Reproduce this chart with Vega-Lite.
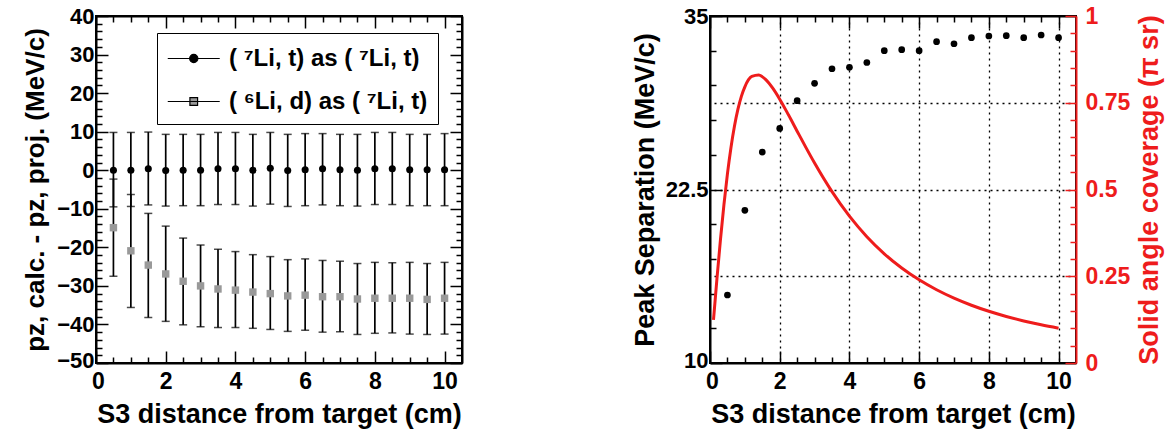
{
  "$schema": "https://vega.github.io/schema/vega-lite/v6.json",
  "padding": {"left": 21, "top": 4, "right": 5, "bottom": 5},
  "background": "white",
  "spacing": 166,
  "config": {
    "font": "Liberation Sans",
    "view": {"stroke": "black", "strokeWidth": 2},
    "axis": {
      "labelFont": "Liberation Sans", "labelFontWeight": "bold", "labelFontSize": 23, "labelColor": "black",
      "titleFont": "Liberation Sans", "titleFontWeight": "bold", "titleFontSize": 27, "titleColor": "black",
      "tickColor": "black", "tickWidth": 1.5, "domainColor": "black", "domainWidth": 2,
      "grid": false, "labelFlush": false, "labelOverlap": false, "labelBound": false
    }
  },
  "datasets": {
    "left": [
      {"series": "( ⁷Li, t) as ( ⁷Li, t)", "d": 0.5, "v": 0.0, "lo": -9.5, "hi": 9.8},
      {"series": "( ⁷Li, t) as ( ⁷Li, t)", "d": 1.0, "v": 0.0, "lo": -9.4, "hi": 9.8},
      {"series": "( ⁷Li, t) as ( ⁷Li, t)", "d": 1.5, "v": 0.4, "lo": -9.0, "hi": 9.9},
      {"series": "( ⁷Li, t) as ( ⁷Li, t)", "d": 2.0, "v": -0.1, "lo": -9.3, "hi": 9.3},
      {"series": "( ⁷Li, t) as ( ⁷Li, t)", "d": 2.5, "v": 0.0, "lo": -9.2, "hi": 9.3},
      {"series": "( ⁷Li, t) as ( ⁷Li, t)", "d": 3.0, "v": 0.0, "lo": -9.2, "hi": 9.3},
      {"series": "( ⁷Li, t) as ( ⁷Li, t)", "d": 3.5, "v": 0.4, "lo": -8.9, "hi": 9.8},
      {"series": "( ⁷Li, t) as ( ⁷Li, t)", "d": 4.0, "v": 0.4, "lo": -8.9, "hi": 9.8},
      {"series": "( ⁷Li, t) as ( ⁷Li, t)", "d": 4.5, "v": 0.0, "lo": -9.3, "hi": 9.3},
      {"series": "( ⁷Li, t) as ( ⁷Li, t)", "d": 5.0, "v": 0.5, "lo": -8.8, "hi": 9.8},
      {"series": "( ⁷Li, t) as ( ⁷Li, t)", "d": 5.5, "v": -0.1, "lo": -9.4, "hi": 9.3},
      {"series": "( ⁷Li, t) as ( ⁷Li, t)", "d": 6.0, "v": 0.1, "lo": -9.2, "hi": 9.5},
      {"series": "( ⁷Li, t) as ( ⁷Li, t)", "d": 6.5, "v": 0.4, "lo": -9.0, "hi": 9.5},
      {"series": "( ⁷Li, t) as ( ⁷Li, t)", "d": 7.0, "v": 0.1, "lo": -9.2, "hi": 9.3},
      {"series": "( ⁷Li, t) as ( ⁷Li, t)", "d": 7.5, "v": 0.0, "lo": -9.3, "hi": 9.3},
      {"series": "( ⁷Li, t) as ( ⁷Li, t)", "d": 8.0, "v": 0.4, "lo": -8.9, "hi": 9.8},
      {"series": "( ⁷Li, t) as ( ⁷Li, t)", "d": 8.5, "v": 0.4, "lo": -8.9, "hi": 9.8},
      {"series": "( ⁷Li, t) as ( ⁷Li, t)", "d": 9.0, "v": 0.1, "lo": -9.2, "hi": 9.3},
      {"series": "( ⁷Li, t) as ( ⁷Li, t)", "d": 9.5, "v": 0.1, "lo": -9.2, "hi": 9.3},
      {"series": "( ⁷Li, t) as ( ⁷Li, t)", "d": 10.0, "v": 0.1, "lo": -9.2, "hi": 9.5},
      {"series": "( ⁶Li, d) as ( ⁷Li, t)", "d": 0.5, "v": -14.9, "lo": -27.5, "hi": -2.3},
      {"series": "( ⁶Li, d) as ( ⁷Li, t)", "d": 1.0, "v": -20.9, "lo": -35.6, "hi": -6.3},
      {"series": "( ⁶Li, d) as ( ⁷Li, t)", "d": 1.5, "v": -24.6, "lo": -38.2, "hi": -11.2},
      {"series": "( ⁶Li, d) as ( ⁷Li, t)", "d": 2.0, "v": -26.9, "lo": -39.2, "hi": -14.5},
      {"series": "( ⁶Li, d) as ( ⁷Li, t)", "d": 2.5, "v": -28.8, "lo": -40.1, "hi": -17.6},
      {"series": "( ⁶Li, d) as ( ⁷Li, t)", "d": 3.0, "v": -30.0, "lo": -40.6, "hi": -19.4},
      {"series": "( ⁶Li, d) as ( ⁷Li, t)", "d": 3.5, "v": -30.8, "lo": -40.8, "hi": -20.5},
      {"series": "( ⁶Li, d) as ( ⁷Li, t)", "d": 4.0, "v": -31.1, "lo": -40.8, "hi": -21.1},
      {"series": "( ⁶Li, d) as ( ⁷Li, t)", "d": 4.5, "v": -31.6, "lo": -41.0, "hi": -21.9},
      {"series": "( ⁶Li, d) as ( ⁷Li, t)", "d": 5.0, "v": -32.0, "lo": -41.3, "hi": -22.4},
      {"series": "( ⁶Li, d) as ( ⁷Li, t)", "d": 5.5, "v": -32.6, "lo": -41.8, "hi": -23.2},
      {"series": "( ⁶Li, d) as ( ⁷Li, t)", "d": 6.0, "v": -32.4, "lo": -41.5, "hi": -23.0},
      {"series": "( ⁶Li, d) as ( ⁷Li, t)", "d": 6.5, "v": -32.8, "lo": -42.0, "hi": -23.4},
      {"series": "( ⁶Li, d) as ( ⁷Li, t)", "d": 7.0, "v": -32.8, "lo": -41.9, "hi": -23.6},
      {"series": "( ⁶Li, d) as ( ⁷Li, t)", "d": 7.5, "v": -33.4, "lo": -42.6, "hi": -24.2},
      {"series": "( ⁶Li, d) as ( ⁷Li, t)", "d": 8.0, "v": -33.2, "lo": -42.3, "hi": -23.9},
      {"series": "( ⁶Li, d) as ( ⁷Li, t)", "d": 8.5, "v": -33.2, "lo": -42.2, "hi": -24.0},
      {"series": "( ⁶Li, d) as ( ⁷Li, t)", "d": 9.0, "v": -33.2, "lo": -42.5, "hi": -23.9},
      {"series": "( ⁶Li, d) as ( ⁷Li, t)", "d": 9.5, "v": -33.5, "lo": -42.6, "hi": -24.2},
      {"series": "( ⁶Li, d) as ( ⁷Li, t)", "d": 10.0, "v": -33.2, "lo": -42.5, "hi": -23.9}
    ],
    "peak": [
      {"d": 0.5, "sep": 14.9}, {"d": 1.0, "sep": 21.0}, {"d": 1.5, "sep": 25.2}, {"d": 2.0, "sep": 26.9},
      {"d": 2.5, "sep": 28.9}, {"d": 3.0, "sep": 30.15}, {"d": 3.5, "sep": 31.2}, {"d": 4.0, "sep": 31.3},
      {"d": 4.5, "sep": 31.65}, {"d": 5.0, "sep": 32.5}, {"d": 5.5, "sep": 32.57}, {"d": 6.0, "sep": 32.5},
      {"d": 6.5, "sep": 33.15}, {"d": 7.0, "sep": 33.0}, {"d": 7.5, "sep": 33.44}, {"d": 8.0, "sep": 33.56},
      {"d": 8.5, "sep": 33.58}, {"d": 9.0, "sep": 33.44}, {"d": 9.5, "sep": 33.63}, {"d": 10.0, "sep": 33.44}
    ],
    "solid": [
      {"d": 0.1, "omega": 0.124}, {"d": 0.2, "omega": 0.2437}, {"d": 0.3, "omega": 0.3554}, {"d": 0.4, "omega": 0.4564},
      {"d": 0.5, "omega": 0.5448}, {"d": 0.6, "omega": 0.6198}, {"d": 0.7, "omega": 0.6815}, {"d": 0.8, "omega": 0.7307},
      {"d": 0.9, "omega": 0.7684}, {"d": 1.0, "omega": 0.7959}, {"d": 1.2, "omega": 0.8257}, {"d": 1.4, "omega": 0.8299},
      {"d": 1.6, "omega": 0.8166}, {"d": 1.8, "omega": 0.7919}, {"d": 2.0, "omega": 0.7602}, {"d": 2.25, "omega": 0.7152},
      {"d": 2.5, "omega": 0.6681}, {"d": 2.75, "omega": 0.6213}, {"d": 3.0, "omega": 0.5762}, {"d": 3.5, "omega": 0.4938},
      {"d": 4.0, "omega": 0.4233}, {"d": 4.5, "omega": 0.3641}, {"d": 5.0, "omega": 0.3148}, {"d": 5.5, "omega": 0.2738},
      {"d": 6.0, "omega": 0.2397}, {"d": 6.5, "omega": 0.211}, {"d": 7.0, "omega": 0.1869}, {"d": 7.5, "omega": 0.1665},
      {"d": 8.0, "omega": 0.149}, {"d": 8.5, "omega": 0.1341}, {"d": 9.0, "omega": 0.1212}, {"d": 9.5, "omega": 0.1101},
      {"d": 10.0, "omega": 0.1003}
    ]
  },
  "hconcat": [
    {
      "width": 366,
      "height": 347,
      "data": {"name": "left"},
      "layer": [
        {
          "mark": {"type": "errorbar", "color": "black", "thickness": 1.7, "ticks": {"size": 8, "thickness": 1.5, "color": "black"}},
          "encoding": {
            "x": {"field": "d", "type": "quantitative", "scale": {"domain": [0, 10.5], "nice": false},
              "axis": {"orient": "bottom", "title": "S3 distance from target (cm)",
                "values": [0,0.5,1,1.5,2,2.5,3,3.5,4,4.5,5,5.5,6,6.5,7,7.5,8,8.5,9,9.5,10],
                "labelExpr": "datum.value % 2 === 0 ? format(datum.value, 'd') : ''",
                "labelOffset": {"condition": {"test": "datum.value === 0", "value": 2}, "value": 0},
                "tickSize": {"condition": {"test": "datum.value % 2 === 0", "value": -12}, "value": -6},
                "labelPadding": 19, "titlePadding": 2}},
            "y": {"field": "lo", "type": "quantitative", "scale": {"domain": [-50, 40], "nice": false},
              "axis": {"orient": "left", "title": "pz, calc. - pz, proj. (MeV/c)", "titleFontSize": 26,
                "labelFontSize": 22,
                "values": [-50,-48,-46,-44,-42,-40,-38,-36,-34,-32,-30,-28,-26,-24,-22,-20,-18,-16,-14,-12,-10,-8,-6,-4,-2,0,2,4,6,8,10,12,14,16,18,20,22,24,26,28,30,32,34,36,38,40],
                "labelExpr": "datum.value % 10 === 0 ? format(datum.value, 'd') : ''",
                "labelOffset": {"condition": {"test": "datum.value === -50", "value": -3}, "value": 0},
                "tickSize": {"condition": {"test": "datum.value % 10 === 0", "value": -12}, "value": -6},
                "labelPadding": 14, "titlePadding": 8}},
            "y2": {"field": "hi"}
          }
        },
        {
          "transform": [{"filter": "datum.series === '( ⁷Li, t) as ( ⁷Li, t)'"}],
          "mark": {"type": "point", "shape": "circle", "filled": true, "opacity": 1, "size": 50},
          "encoding": {
            "x": {"field": "d", "type": "quantitative",
              "axis": {"orient": "top", "title": null, "labels": false,
                "values": [0,0.5,1,1.5,2,2.5,3,3.5,4,4.5,5,5.5,6,6.5,7,7.5,8,8.5,9,9.5,10],
                "tickSize": {"condition": {"test": "datum.value % 2 === 0", "value": -12}, "value": -6}}},
            "y": {"field": "v", "type": "quantitative",
              "axis": {"orient": "right", "title": null, "labels": false,
                "values": [-50,-48,-46,-44,-42,-40,-38,-36,-34,-32,-30,-28,-26,-24,-22,-20,-18,-16,-14,-12,-10,-8,-6,-4,-2,0,2,4,6,8,10,12,14,16,18,20,22,24,26,28,30,32,34,36,38,40],
                "tickSize": {"condition": {"test": "datum.value % 10 === 0", "value": -12}, "value": -6}}},
            "color": {"field": "series", "type": "nominal",
              "scale": {"domain": ["( ⁷Li, t) as ( ⁷Li, t)", "( ⁶Li, d) as ( ⁷Li, t)"], "range": ["black", "#999999"]},
              "legend": {"title": null, "orient": "none", "legendX": 61, "legendY": 17, "padding": 10, "rowPadding": 15,
                "symbolSize": 870, "labelOffset": 31, "labelFont": "Liberation Sans", "labelFontWeight": "bold",
                "labelFontSize": 24, "labelColor": "black", "labelLimit": 400, "strokeColor": "black", "fillColor": "white",
                "symbolType": {"expr": "datum.value === '( ⁷Li, t) as ( ⁷Li, t)' ? 'M-1,0H2.525M1.043,0A0.28,0.28,0,1,1,0.483,0A0.28,0.28,0,1,1,1.043,0Z' : 'M-1,0H2.525M0.503,-0.26H1.023V0.26H0.503Z'"},
                "symbolStrokeColor": "black", "symbolStrokeWidth": 1.2}}
          }
        },
        {
          "transform": [{"filter": "datum.series === '( ⁶Li, d) as ( ⁷Li, t)'"}],
          "mark": {"type": "point", "shape": "square", "filled": true, "opacity": 1, "size": 55},
          "encoding": {
            "x": {"field": "d", "type": "quantitative", "axis": null},
            "y": {"field": "v", "type": "quantitative", "axis": null},
            "color": {"field": "series", "type": "nominal",
              "scale": {"domain": ["( ⁷Li, t) as ( ⁷Li, t)", "( ⁶Li, d) as ( ⁷Li, t)"], "range": ["black", "#999999"]},
              "legend": {"title": null, "orient": "none", "legendX": 61, "legendY": 17, "padding": 10, "rowPadding": 15,
                "symbolSize": 870, "labelOffset": 31, "labelFont": "Liberation Sans", "labelFontWeight": "bold",
                "labelFontSize": 24, "labelColor": "black", "labelLimit": 400, "strokeColor": "black", "fillColor": "white",
                "symbolType": {"expr": "datum.value === '( ⁷Li, t) as ( ⁷Li, t)' ? 'M-1,0H2.525M1.043,0A0.28,0.28,0,1,1,0.483,0A0.28,0.28,0,1,1,1.043,0Z' : 'M-1,0H2.525M0.503,-0.26H1.023V0.26H0.503Z'"},
                "symbolStrokeColor": "black", "symbolStrokeWidth": 1.2}}
          }
        }
      ],
      "resolve": {"axis": {"x": "independent", "y": "independent"}}
    },
    {
      "width": 366,
      "height": 347,
      "layer": [
        {
          "data": {"name": "peak"},
          "mark": {"type": "circle", "color": "black", "size": 45, "opacity": 1},
          "encoding": {
            "x": {"field": "d", "type": "quantitative", "scale": {"domain": [0, 10.5], "nice": false},
              "axis": {"orient": "bottom", "title": "S3 distance from target (cm)",
                "values": [0,0.5,1,1.5,2,2.5,3,3.5,4,4.5,5,5.5,6,6.5,7,7.5,8,8.5,9,9.5,10],
                "labelExpr": "datum.value % 2 === 0 ? format(datum.value, 'd') : ''",
                "labelOffset": {"condition": {"test": "datum.value === 0", "value": 2}, "value": 0},
                "tickSize": {"condition": {"test": "datum.value % 2 === 0", "value": -12}, "value": -6},
                "grid": true, "gridColor": "black", "gridDash": [2, 4], "gridWidth": 1.3,
                "gridOpacity": {"condition": {"test": "datum.value % 2 === 0 && datum.value > 0", "value": 1}, "value": 0},
                "labelPadding": 19, "titlePadding": 2}},
            "y": {"field": "sep", "type": "quantitative", "scale": {"domain": [10, 35], "nice": false},
              "axis": {"orient": "left", "title": "Peak Separation (MeV/c)", "labelFontSize": 22,
                "values": [10,12.5,15,17.5,20,22.5,25,27.5,30,32.5,35],
                "labelExpr": "abs((datum.value - 10) / 12.5 - round((datum.value - 10) / 12.5)) < 0.001 ? format(datum.value, '~g') : ''",
                "labelOffset": {"condition": {"test": "datum.value === 10", "value": -3}, "value": 0},
                "tickSize": {"condition": {"test": "abs((datum.value - 10) / 12.5 - round((datum.value - 10) / 12.5)) < 0.001", "value": -12}, "value": -6},
                "labelPadding": 14, "titlePadding": 6}}
          }
        },
        {
          "data": {"name": "solid"},
          "mark": {"type": "line", "color": "#ee1c1c", "strokeWidth": 3, "interpolate": "monotone"},
          "encoding": {
            "x": {"field": "d", "type": "quantitative",
              "axis": {"orient": "top", "title": null, "labels": false,
                "values": [0,0.5,1,1.5,2,2.5,3,3.5,4,4.5,5,5.5,6,6.5,7,7.5,8,8.5,9,9.5,10],
                "tickSize": {"condition": {"test": "datum.value % 2 === 0", "value": -12}, "value": -6}}},
            "y": {"field": "omega", "type": "quantitative", "scale": {"domain": [0, 1], "nice": false},
              "axis": {"orient": "right", "title": "Solid angle coverage (π sr)", "titleAngle": 270,
                "titleColor": "#ee1c1c", "labelColor": "#ee1c1c", "tickColor": "#ee1c1c", "domainColor": "#ee1c1c",
                "values": [0,0.05,0.1,0.15,0.2,0.25,0.3,0.35,0.4,0.45,0.5,0.55,0.6,0.65,0.7,0.75,0.8,0.85,0.9,0.95,1],
                "labelExpr": "abs(datum.value * 4 - round(datum.value * 4)) < 0.001 ? format(datum.value, '~g') : ''",
                "tickSize": {"condition": {"test": "abs(datum.value * 4 - round(datum.value * 4)) < 0.001", "value": -11}, "value": -6},
                "grid": true, "gridColor": "black", "gridDash": [2, 4], "gridWidth": 1.3,
                "gridOpacity": {"condition": {"test": "abs(datum.value * 4 - round(datum.value * 4)) < 0.001 && datum.value > 0 && datum.value < 1", "value": 1}, "value": 0},
                "labelPadding": 20, "titlePadding": 34}}
          }
        }
      ],
      "resolve": {"scale": {"y": "independent"}, "axis": {"x": "independent", "y": "independent"}}
    }
  ]
}
